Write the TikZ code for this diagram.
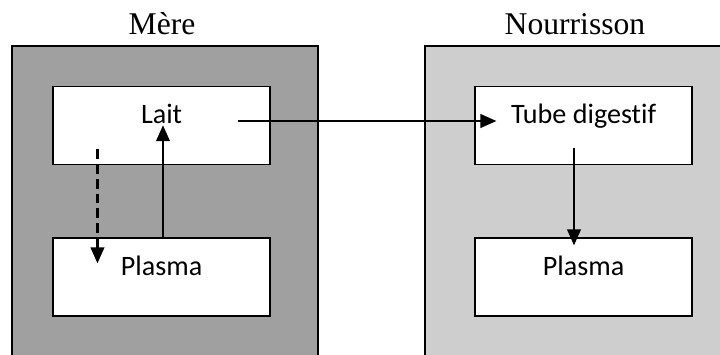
\documentclass[tikz,border=0pt]{standalone}
\usepackage{fontspec}
\setmainfont{Liberation Serif}
\newfontfamily\boxfont[Ligatures=NoCommon]{Carlito}
\usepackage{xcolor}
\usepackage{tikz}
\usetikzlibrary{arrows.meta,positioning,calc}

\definecolor{mereGray}{RGB}{160,160,160}
\definecolor{nourrGray}{RGB}{206,206,206}

\begin{document}
\begin{tikzpicture}[
    outer/.style={draw, line width=1pt},
    compart/.style={rectangle, draw, fill=white, line width=0.9pt, minimum width=5.425cm, minimum height=1.95cm,
                    text height=0.5cm, text depth=0.6cm, font=\boxfont\fontsize{20}{24}\selectfont},
    title/.style={font=\fontsize{22.5}{26}\selectfont},
    arrow/.style={-{Triangle[length=0.4cm,width=0.34cm]}, line width=1.5pt}
]
\clip (0,0) rectangle (18,8.85);

% compartments
\draw[outer, fill=mereGray]  (0.3,-0.2) rectangle (7.95,7.7);
\draw[outer, fill=nourrGray] (10.625,-0.2) rectangle (18.3,7.7);
\node[title] (mere)  at (4.05, 8.25)  {Mère};
\node[title] (nourr) at (14.375, 8.25) {Nourrisson};

\node[compart] (lait)    at (4.04, 5.71)  {Lait};
\node[compart] (plasmaM) at (4.04, 1.925) {Plasma};
\node[compart] (tube)    at (14.59, 5.71) {Tube digestif};
\node[compart] (plasmaN) at (14.59, 1.925) {Plasma};

% transfers
\draw[arrow, dash pattern=on 7pt off 3.5pt] ([xshift=1.125cm,yshift=0.4cm]lait.south west) -- ([xshift=1.125cm,yshift=-0.65cm]plasmaM.north west);
\draw[arrow] ([xshift=0.035cm]plasmaM.north) -- ([xshift=0.035cm,yshift=1.0cm]lait.south);
\draw[arrow] ([xshift=-0.825cm,yshift=0.115cm]lait.east) -- ([xshift=0.55cm,yshift=0.115cm]tube.west);
\draw[arrow] ([xshift=-0.24cm,yshift=0.425cm]tube.south) -- ([xshift=-0.24cm,yshift=-0.2cm]plasmaN.north);
\end{tikzpicture}
\end{document}
